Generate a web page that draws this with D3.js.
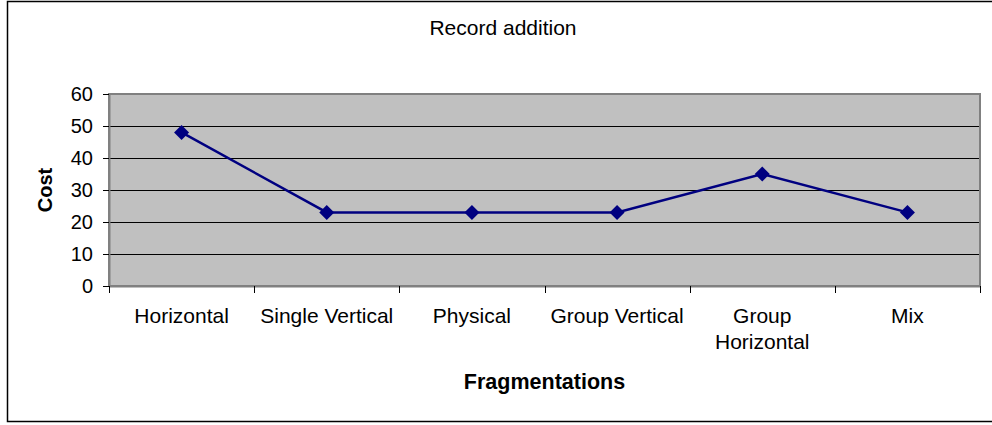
<!DOCTYPE html>
<html><head><meta charset="utf-8">
<script src="https://cdn.jsdelivr.net/npm/d3@7"></script>
<style>body{margin:0;background:#fff}svg{display:block}text{font-family:"Liberation Sans",Arial,sans-serif;fill:#000}</style>
</head><body><svg id="c" width="992" height="425"></svg>
<script>
const categories = ["Horizontal", "Single Vertical", "Physical", "Group Vertical", "Group Horizontal", "Mix"];
const values = [48, 23, 23, 23, 35, 23];
const yTicks = [0, 10, 20, 30, 40, 50, 60];
const title = "Record addition";
const xTitle = "Fragmentations";
const yTitle = "Cost";

const svg = d3.select("#c");
const L = 109, R = 980, T = 94, B = 286;

svg.append("rect").attr("x", 7.5).attr("y", 1.5).attr("width", 1010).attr("height", 420)
  .attr("fill", "#fff").attr("stroke", "#000").attr("stroke-width", 1.5);

const x = d3.scaleBand().domain(categories).range([L, R]).padding(0);
const y = d3.scaleLinear().domain([0, 60]).range([B, T]);

svg.append("rect").attr("x", L).attr("y", T).attr("width", R - L).attr("height", B - T)
  .attr("fill", "#c0c0c0");

// gridlines
svg.append("g").selectAll("line").data(yTicks.filter(d => d > 0 && d < 60)).join("line")
  .attr("x1", L).attr("x2", R).attr("y1", d => Math.round(y(d)) + 0.5).attr("y2", d => Math.round(y(d)) + 0.5)
  .attr("stroke", "#000").attr("stroke-width", 1);

// plot border
svg.append("rect").attr("x", L).attr("y", T).attr("width", R - L).attr("height", B - T)
  .attr("fill", "none").attr("stroke", "#808080").attr("stroke-width", 2);

// y axis
const yAxis = d3.axisLeft(y).tickValues(yTicks).tickSize(6).tickPadding(10).tickSizeOuter(0);
const gy = svg.append("g").attr("transform", `translate(${L},0)`).call(yAxis);
gy.select(".domain").attr("stroke", "#808080").attr("stroke-width", 2);
gy.selectAll(".tick line").attr("stroke", "#000");
gy.selectAll(".tick text").attr("font-size", 20).attr("font-family", "Liberation Sans, Arial, sans-serif").attr("fill", "#000");

// x axis
const xAxis = d3.axisBottom(x).tickSize(0).tickPadding(0).tickSizeOuter(0);
const gx = svg.append("g").attr("transform", `translate(0,${B})`).call(xAxis);
gx.select(".domain").attr("stroke", "#808080").attr("stroke-width", 2);
gx.selectAll(".tick text").remove();
// boundary tick marks
const bounds = categories.map(c => x(c)).concat([x(categories[categories.length - 1]) + x.bandwidth()]);
svg.append("g").selectAll("line").data(bounds).join("line")
  .attr("x1", d => Math.round(d) + 0.5).attr("x2", d => Math.round(d) + 0.5)
  .attr("y1", B).attr("y2", B + 7).attr("stroke", "#000");

// category labels (wrap)
const lblG = svg.append("g");
categories.forEach(c => {
  const cx = x(c) + x.bandwidth() / 2;
  const lines = c === "Group Horizontal" ? ["Group", "Horizontal"] : [c];
  const t = lblG.append("text").attr("x", cx).attr("y", 323).attr("text-anchor", "middle").attr("font-size", 21);
  lines.forEach((ln, i) => t.append("tspan").attr("x", cx).attr("dy", i === 0 ? 0 : 26).text(ln));
});

// line
const line = d3.line().x((d, i) => x(categories[i]) + x.bandwidth() / 2).y(d => y(d));
svg.append("path").datum(values).attr("d", line).attr("fill", "none")
  .attr("stroke", "#000080").attr("stroke-width", 2.5);

svg.append("g").selectAll("path").data(values).join("path")
  .attr("d", "M0,-7.5L7.5,0L0,7.5L-7.5,0Z")
  .attr("transform", (d, i) => `translate(${x(categories[i]) + x.bandwidth() / 2},${y(d)})`)
  .attr("fill", "#000080");

// titles
svg.append("text").attr("x", 503).attr("y", 35).attr("text-anchor", "middle").attr("font-size", 21).text(title);
svg.append("text").attr("x", (L + R) / 2).attr("y", 389).attr("text-anchor", "middle").attr("font-size", 21.5).attr("font-weight", "bold").text(xTitle);
svg.append("text").attr("transform", `translate(52,${(T + B) / 2}) rotate(-90)`).attr("text-anchor", "middle").attr("font-size", 20).attr("font-weight", "bold").text(yTitle);
</script></body></html>
